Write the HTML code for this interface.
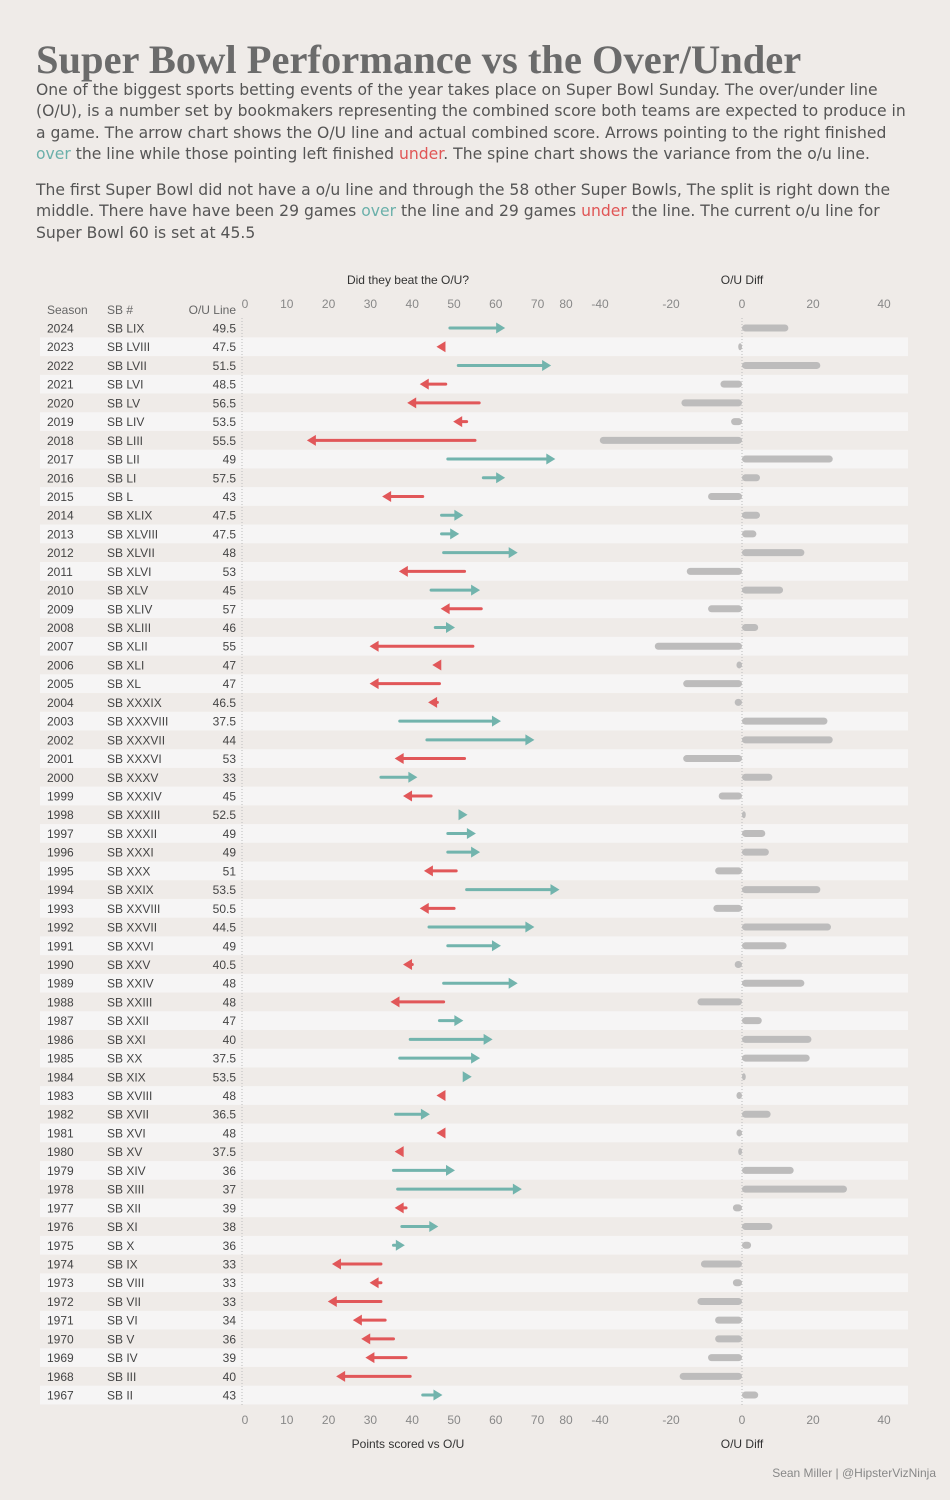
<!DOCTYPE html>
<html><head><meta charset="utf-8">
<style>
body{margin:0;background:#efebe8;width:950px;height:1500px;overflow:hidden;font-family:"DejaVu Sans","Liberation Sans",sans-serif;}
#title{position:absolute;left:36px;top:36px;font-family:"Liberation Serif",serif;font-weight:bold;font-size:40.5px;color:#6b6b6b;white-space:nowrap;}
.p{position:absolute;left:36px;font-size:15.6px;color:#555;line-height:21.3px;white-space:nowrap;}
.over{color:#6bb0aa;}.under{color:#e05555;}
svg{position:absolute;left:0;top:0;}
</style></head><body>
<div id="title">Super Bowl Performance vs the Over/Under</div>
<div class="p" style="top:80px">One of the biggest sports betting events of the year takes place on Super Bowl Sunday. The over/under line<br>(O/U), is a number set by bookmakers representing the combined score both teams are expected to produce in<br>a game. The arrow chart shows the O/U line and actual combined score. Arrows pointing to the right finished<br><span class="over">over</span> the line while those pointing left finished <span class="under">under</span>. The spine chart shows the variance from the o/u line.</div>
<div class="p" style="top:180px">The first Super Bowl did not have a o/u line and through the 58 other Super Bowls, The split is right down the<br>middle. There have have been 29 games <span class="over">over</span> the line and 29 games <span class="under">under</span> the line. The current o/u line for<br>Super Bowl 60 is set at 45.5</div>
<svg id="chart" width="950" height="1500"></svg>
<script>
const seasons=[2024,2023,2022,2021,2020,2019,2018,2017,2016,2015,2014,2013,2012,2011,2010,2009,2008,2007,2006,2005,2004,2003,2002,2001,2000,1999,1998,1997,1996,1995,1994,1993,1992,1991,1990,1989,1988,1987,1986,1985,1984,1983,1982,1981,1980,1979,1978,1977,1976,1975,1974,1973,1972,1971,1970,1969,1968,1967];
const sbNames=["SB LIX","SB LVIII","SB LVII","SB LVI","SB LV","SB LIV","SB LIII","SB LII","SB LI","SB L","SB XLIX","SB XLVIII","SB XLVII","SB XLVI","SB XLV","SB XLIV","SB XLIII","SB XLII","SB XLI","SB XL","SB XXXIX","SB XXXVIII","SB XXXVII","SB XXXVI","SB XXXV","SB XXXIV","SB XXXIII","SB XXXII","SB XXXI","SB XXX","SB XXIX","SB XXVIII","SB XXVII","SB XXVI","SB XXV","SB XXIV","SB XXIII","SB XXII","SB XXI","SB XX","SB XIX","SB XVIII","SB XVII","SB XVI","SB XV","SB XIV","SB XIII","SB XII","SB XI","SB X","SB IX","SB VIII","SB VII","SB VI","SB V","SB IV","SB III","SB II"];
const ouLines=[49.5,47.5,51.5,48.5,56.5,53.5,55.5,49,57.5,43,47.5,47.5,48,53,45,57,46,55,47,47,46.5,37.5,44,53,33,45,52.5,49,49,51,53.5,50.5,44.5,49,40.5,48,48,47,40,37.5,53.5,48,36.5,48,37.5,36,37,39,38,36,33,33,33,34,36,39,40,43];
const totals=[62,47,73,43,40,51,16,74,62,34,52,51,65,38,56,48,50,31,46,31,45,61,69,37,41,39,53,55,56,44,75,43,69,61,39,65,36,52,59,56,54,47,44,47,37,50,66,37,46,38,22,31,21,27,29,30,23,47];
const ptTicks=[0,10,20,30,40,50,60,70,80];
const diffTicks=[-40,-20,0,20,40];

const svg=document.getElementById('chart');
const NS='http://www.w3.org/2000/svg';
function mk(tag,attrs,parent){const e=document.createElementNS(NS,tag);for(const k in attrs)e.setAttribute(k,attrs[k]);(parent||svg).appendChild(e);return e;}
const x=v=>243+v*4.18;
const xd=v=>742+v*3.55;
const rowY=i=>328+i*18.72;
const TEAL='#72b4ad',RED='#e15759',GRAY='#bdbcbc';

seasons.forEach((s,i)=>{if(i%2===1){const b=mk('rect',{x:40,y:rowY(i)-9.36,width:868,height:18.72,fill:'#f6f5f5'});

}});
const z1=mk('line',{x1:242,x2:242,y1:318,y2:1405,stroke:'#bbb','stroke-dasharray':'1,2'});


const z2=mk('line',{x1:742,x2:742,y1:318,y2:1405,stroke:'#bbb','stroke-dasharray':'1,2'});



function txt(t,ax,ay,opt){const e=mk('text',Object.assign({x:ax,y:ay,'font-family':'"Liberation Sans",sans-serif','font-size':12,fill:'#555'},opt||{}));e.textContent=t;return e;}
let h;
h=txt('Season',47,314,{fill:'#666'});
h=txt('SB #',107,314,{fill:'#666'});
h=txt('O/U Line',236,314,{fill:'#666','text-anchor':'end'});
h=txt('Did they beat the O/U?',408,284,{fill:'#333','text-anchor':'middle'});
h=txt('O/U Diff',742,284,{fill:'#333','text-anchor':'middle'});
h=txt('Points scored vs O/U',408,1448,{fill:'#333','text-anchor':'middle'});
h=txt('O/U Diff',742,1448,{fill:'#333','text-anchor':'middle'});
h=txt('Sean Miller | @HipsterVizNinja',936,1477,{fill:'#888','text-anchor':'end'});

[308,1424].forEach((ty,k)=>{
 ptTicks.forEach(v=>{const px=Math.min(x(v)+2,566);
  const t=txt(String(v),px,ty,{fill:'#888','text-anchor':'middle'});
  
  });
 diffTicks.forEach(v=>{
  const t=txt(String(v),xd(v),ty,{fill:'#888','text-anchor':'middle'});
  
  });
});

seasons.forEach((s,i)=>{
 const y=rowY(i);
 let t=txt(String(s),47,y+4.5,{fill:'#444'});
 t=txt(sbNames[i],107,y+4.5,{fill:'#444'});
 t=txt(String(ouLines[i]),236,y+4.5,{fill:'#444','text-anchor':'end'});
 const over=totals[i]>ouLines[i];
 const col=over?TEAL:RED;
 const dir=over?1:-1;
 const x0=x(ouLines[i]),x1=x(totals[i])+dir*3;
 const hl=9;
 const lineEnd=x1-dir*hl;
 if(Math.abs(x1-x0)>hl){
  const ln=mk('line',{x1:x0,x2:lineEnd,y1:y,y2:y,stroke:col,'stroke-width':3,'stroke-linecap':'round'});
  
  
 }
 const hd=mk('polygon',{points:`${x1},${y} ${x1-dir*hl},${y-5.5} ${x1-dir*hl},${y+5.5}`,fill:col});
 
 
 const d=totals[i]-ouLines[i];
 const bx=Math.min(xd(0),xd(d)),bw=Math.abs(xd(d)-xd(0));
 const bar=mk('rect',{x:bx-(d<0?2:0),y:y-3.5,width:bw+2,height:7,rx:3.5,fill:GRAY});
 
 
});
</script>
</body></html>
